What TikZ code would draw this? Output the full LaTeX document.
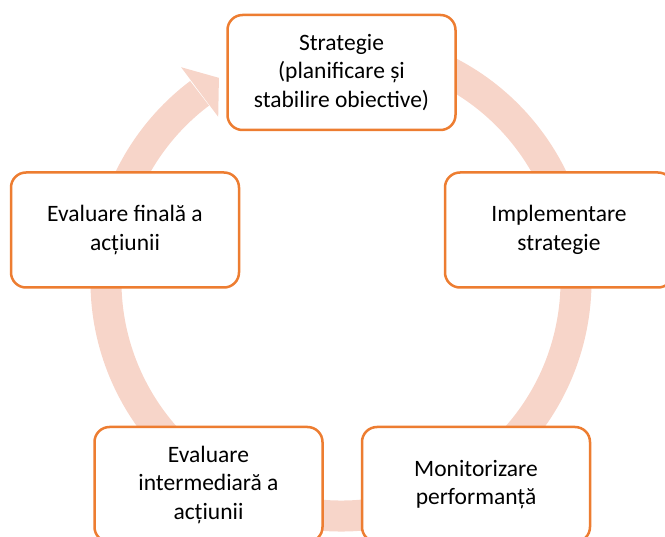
\documentclass[tikz,border=0pt]{standalone}
\usepackage{fontspec}
\setmainfont{Carlito}
\usepackage{tikz}
\definecolor{cycorange}{HTML}{ED7D31}
\definecolor{cycpink}{HTML}{F7D5C9}

\begin{document}
\begin{tikzpicture}[x=1pt,y=1pt,
  stage/.style={rectangle,rounded corners=15pt,draw=cycorange,line width=2.5pt,fill=white,
    minimum width=228pt,minimum height=115pt,align=center,font=\fontsize{23.5}{28.5}\selectfont},
  ring/.style={draw=cycpink,line width=31pt}]
\useasboundingbox (0,0) rectangle (665,-537);
\clip (0,0) rectangle (665,-537);
% cycle arrow
\coordinate (mid) at (341,-281);
\draw[ring] (mid) ++(80:235) arc[start angle=80,end angle=-233,radius=235];
\path (mid) ++(126.8:267) coordinate (headout)
      (mid) ++(126.8:205) coordinate (headin)
      (mid) ++(121.0:237) coordinate (headtip);
\fill[cycpink] (headout) -- (headtip) -- (headin) -- cycle;
% stages
\node[stage] (strat) at (341.5,-72.5) {Strategie\\(planificare și\\stabilire obiective)};
\node[stage] (impl) at (559,-230) {Implementare\\strategie};
\node[stage] (monit) at (476,-484.5) {Monitorizare\\performanță};
\node[stage] (evint) at (208.5,-484.5) {Evaluare\\intermediară a\\acțiunii};
\node[stage] (evfin) at (125,-230) {Evaluare finală a\\acțiunii};
\end{tikzpicture}
\end{document}
